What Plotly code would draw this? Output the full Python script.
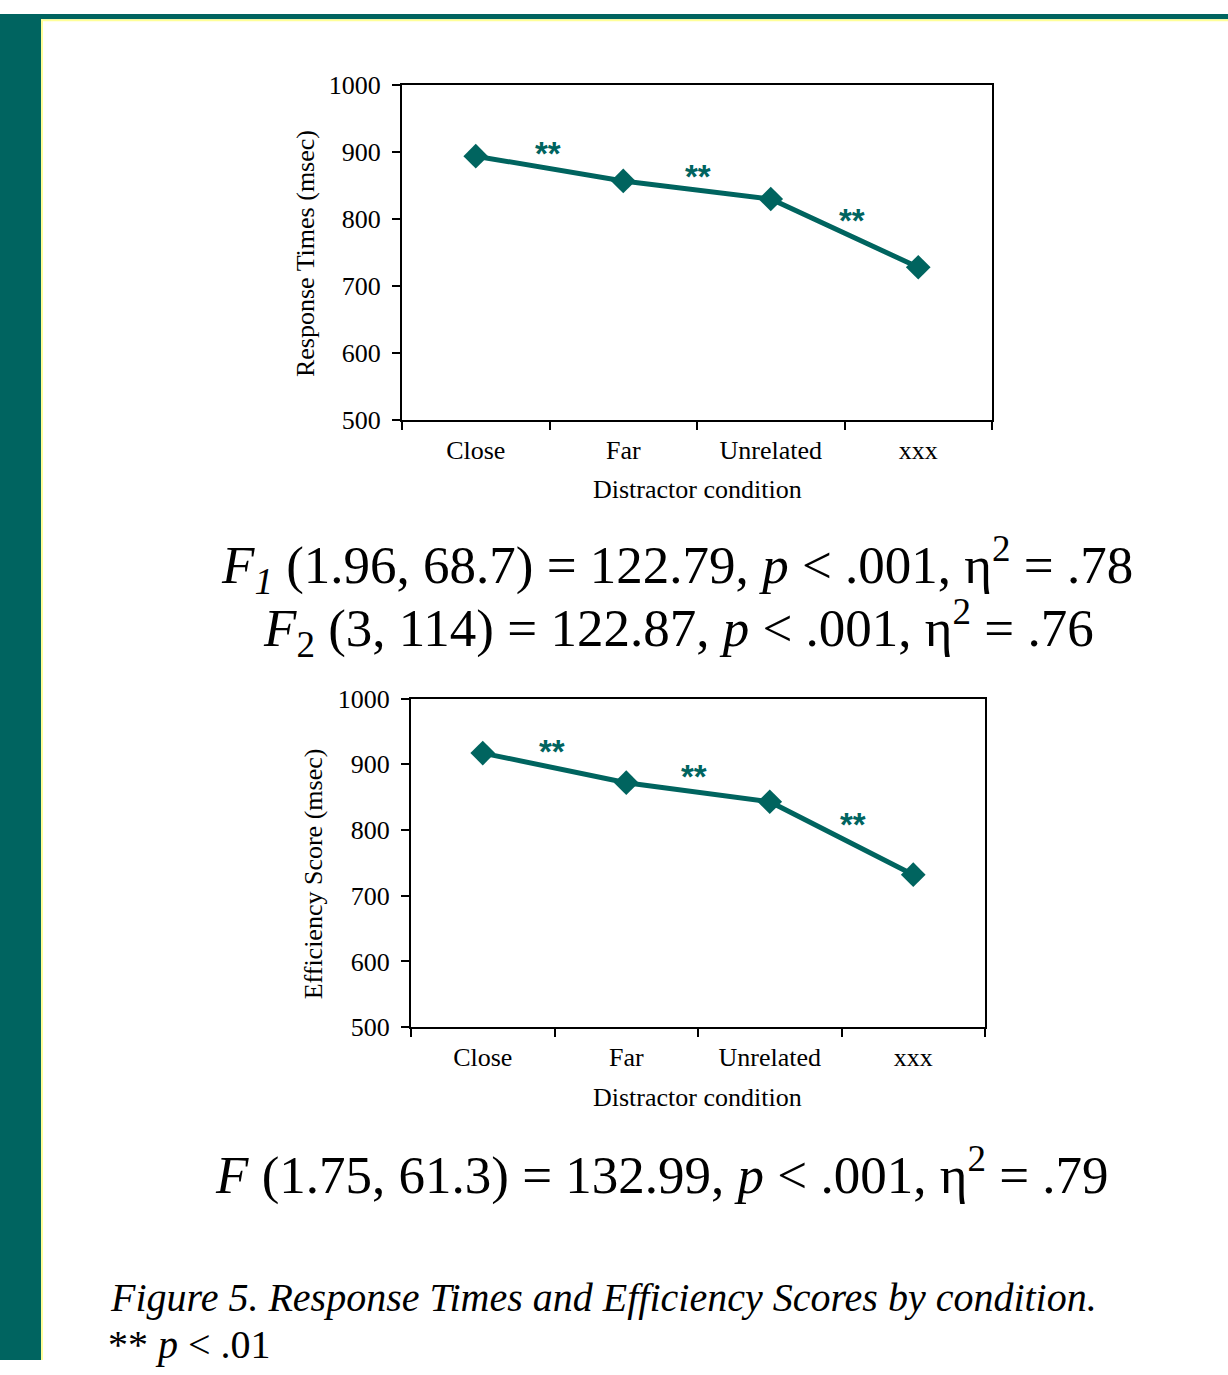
import plotly.graph_objects as go

categories = ["Close", "Far", "Unrelated", "xxx"]
rt_values = [894, 857, 830, 728]
eff_values = [917, 872, 843, 732]
y_ticks = [500, 600, 700, 800, 900, 1000]
rt_star_x = [0.49, 1.51, 2.55]
rt_star_y = [898, 864, 798]
eff_star_x = [0.48, 1.47, 2.58]
eff_star_y = [920, 881, 808]

TEAL = "#00645F"
SERIF = "Liberation Serif, Times New Roman, serif"
SANS = "Liberation Sans, Arial, sans-serif"
W, H = 1228, 1375
# empirical vertical mapping of the capture: y_img = SC * y_fig + OFF
SC, OFF = 0.98, 13.7

def px_x(x):
    return x / W

def px_y(y):
    yf = (y - OFF) / SC
    return min(1.0, max(0.0, 1 - yf / H))

fig = go.Figure()
fig.add_trace(go.Scatter(x=categories, y=rt_values, mode="lines+markers",
                         line=dict(color=TEAL, width=5),
                         marker=dict(symbol="diamond", size=19, color=TEAL),
                         xaxis="x", yaxis="y", showlegend=False))
fig.add_trace(go.Scatter(x=categories, y=eff_values, mode="lines+markers",
                         line=dict(color=TEAL, width=5),
                         marker=dict(symbol="diamond", size=19, color=TEAL),
                         xaxis="x2", yaxis="y2", showlegend=False))

axis_common = dict(showline=True, linecolor="black", linewidth=2, mirror=True,
                   ticks="outside", ticklen=8, tickwidth=2, tickcolor="black",
                   showgrid=False, zeroline=False,
                   tickfont=dict(family=SERIF, size=26, color="black"))

fig.update_layout(
    width=W, height=H, margin=dict(l=0, r=0, t=0, b=0),
    paper_bgcolor="white", plot_bgcolor="white",
    xaxis=dict(domain=[px_x(402), px_x(992)], anchor="y", type="category",
               categoryorder="array", categoryarray=categories,
               range=[-0.5, 3.5], tickson="boundaries", ticklabelstandoff=6,
               **axis_common),
    yaxis=dict(domain=[px_y(420), px_y(85)], anchor="x", range=[500, 1000],
               tickvals=y_ticks, ticklabelstandoff=6, **axis_common),
    xaxis2=dict(domain=[px_x(411), px_x(985)], anchor="y2", type="category",
                categoryorder="array", categoryarray=categories,
                range=[-0.5, 3.5], tickson="boundaries", ticklabelstandoff=6,
                **axis_common),
    yaxis2=dict(domain=[px_y(1028), px_y(699)], anchor="x2", range=[500, 1000],
                tickvals=y_ticks, ticklabelstandoff=6, **axis_common),
)

# border frame
fig.add_shape(type="rect", xref="paper", yref="paper", x0=0, x1=px_x(41), y0=0, y1=1,
              fillcolor="#006460", line=dict(width=0), layer="below")
fig.add_shape(type="rect", xref="paper", yref="paper", x0=0, x1=1, y0=px_y(19), y1=1,
              fillcolor="#006460", line=dict(width=0), layer="below")
fig.add_shape(type="rect", xref="paper", yref="paper", x0=px_x(41), x1=px_x(43), y0=0, y1=px_y(19),
              fillcolor="#FFFF99", line=dict(width=0), layer="below")
fig.add_shape(type="rect", xref="paper", yref="paper", x0=px_x(41), x1=1, y0=px_y(21), y1=px_y(19),
              fillcolor="#FFFF99", line=dict(width=0), layer="below")

anns = []
for sx, sy in zip(rt_star_x, rt_star_y):
    anns.append(dict(x=sx, y=sy, xref="x", yref="y", text="**", showarrow=False,
                     font=dict(family=SANS, size=33, color=TEAL, weight="bold")))
for sx, sy in zip(eff_star_x, eff_star_y):
    anns.append(dict(x=sx, y=sy, xref="x2", yref="y2", text="**", showarrow=False,
                     font=dict(family=SANS, size=33, color=TEAL, weight="bold")))

def ptext(x, y, text, size, xanchor="center", yanchor="middle"):
    anns.append(dict(x=px_x(x), y=px_y(y), xref="paper", yref="paper", text=text,
                     showarrow=False, xanchor=xanchor, yanchor=yanchor,
                     font=dict(family=SERIF, size=size, color="black")))

def ytitle(x, y, text):
    anns.append(dict(x=px_x(x), y=px_y(y), xref="paper", yref="paper", text=text,
                     showarrow=False, textangle=-90, xanchor="center", yanchor="middle",
                     font=dict(family=SERIF, size=26, color="black")))

ytitle(305, 254, "Response Times (msec)")
ptext(697, 490, "Distractor condition", 26)
ytitle(313, 875, "Efficiency Score (msec)")
ptext(697, 1098, "Distractor condition", 26)

ptext(677, 565, "<i>F</i><sub><i>1</i></sub> (1.96, 68.7) = 122.79, <i>p</i> &lt; .001, η<sup>2</sup> = .78", 53)
ptext(678, 628, "<i>F</i><sub>2</sub> (3, 114) = 122.87, <i>p</i> &lt; .001, η<sup>2</sup> = .76", 53)
ptext(662, 1172, "<i>F</i> (1.75, 61.3) = 132.99, <i>p</i> &lt; .001, η<sup>2</sup> = .79", 53)

ptext(108, 1299, "<i>Figure 5. Response Times and Efficiency Scores by condition.</i>", 40, xanchor="left")
ptext(106, 1346, "** <i>p</i> &lt; .01", 40, xanchor="left")

fig.update_layout(annotations=anns)
fig.write_html(
    "out.html",
    config={"displayModeBar": False},
    post_script="document.body.style.margin='0';document.body.style.padding='0';"
                "document.body.style.overflow='hidden';"
                "var g=document.getElementById('{plot_id}');"
                "g.style.position='fixed';g.style.top='0';g.style.left='0';",
)
